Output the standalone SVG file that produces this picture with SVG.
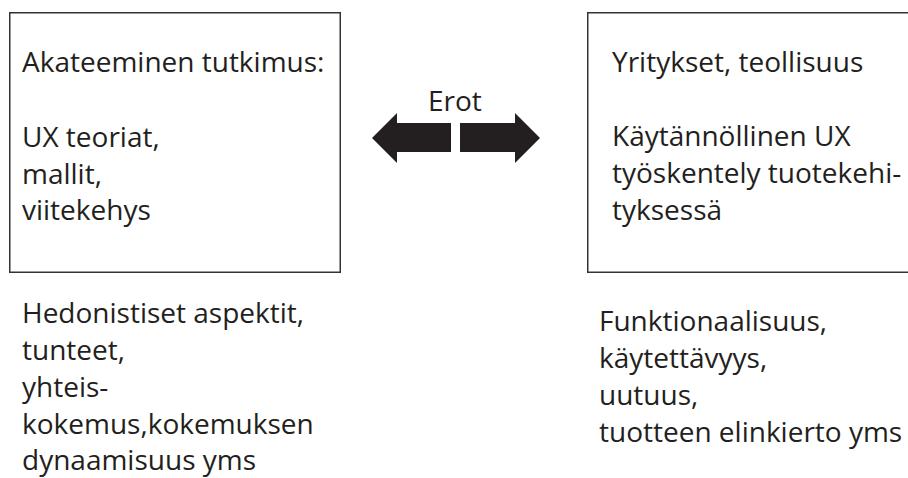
<svg xmlns="http://www.w3.org/2000/svg" width="908" height="478" viewBox="0 0 908 478">
<style>
.box{fill:#fff;stroke:#333;stroke-width:1.5}
.t{font-family:"Open Sans",sans-serif;font-size:28px;fill:#231f20}
.arr{fill:#231f20}
</style>
<rect x="0" y="0" width="908" height="478" fill="#fff"/>
<g id="academic">
<rect class="box" x="9.75" y="12.75" width="330.5" height="259.5"/>
<text class="t" x="22" y="72">Akateeminen tutkimus:</text>
<text class="t" x="22" y="147">UX teoriat,</text>
<text class="t" x="22" y="184">mallit,</text>
<text class="t" x="22" y="220">viitekehys</text>
</g>
<g id="industry">
<rect class="box" x="587.75" y="12.75" width="340" height="259.5"/>
<text class="t" x="612" y="72">Yritykset, teollisuus</text>
<text class="t" x="612" y="146">Käytännöllinen UX</text>
<text class="t" x="612" y="183">työskentely tuotekehi-</text>
<text class="t" x="612" y="220">tyksessä</text>
</g>
<g id="academic-notes">
<text class="t" x="22" y="323">Hedonistiset aspektit,</text>
<text class="t" x="22" y="360">tunteet,</text>
<text class="t" x="22" y="397">yhteis-</text>
<text class="t" x="22" y="434">kokemus,kokemuksen</text>
<text class="t" x="22" y="470">dynaamisuus yms</text>
</g>
<g id="industry-notes">
<text class="t" x="599" y="331">Funktionaalisuus,</text>
<text class="t" x="599" y="368">käytettävyys,</text>
<text class="t" x="599" y="405">uutuus,</text>
<text class="t" x="599" y="442">tuotteen elinkierto yms</text>
</g>
<g id="connectors">
<polygon class="arr" points="372,138 397,113 397,123 451,123 451,152 397,152 397,163"/>
<polygon class="arr" points="540,138 515,113 515,123 460,123 460,152 515,152 515,163"/>
<text class="t" x="428" y="111">Erot</text>
</g>
</svg>
